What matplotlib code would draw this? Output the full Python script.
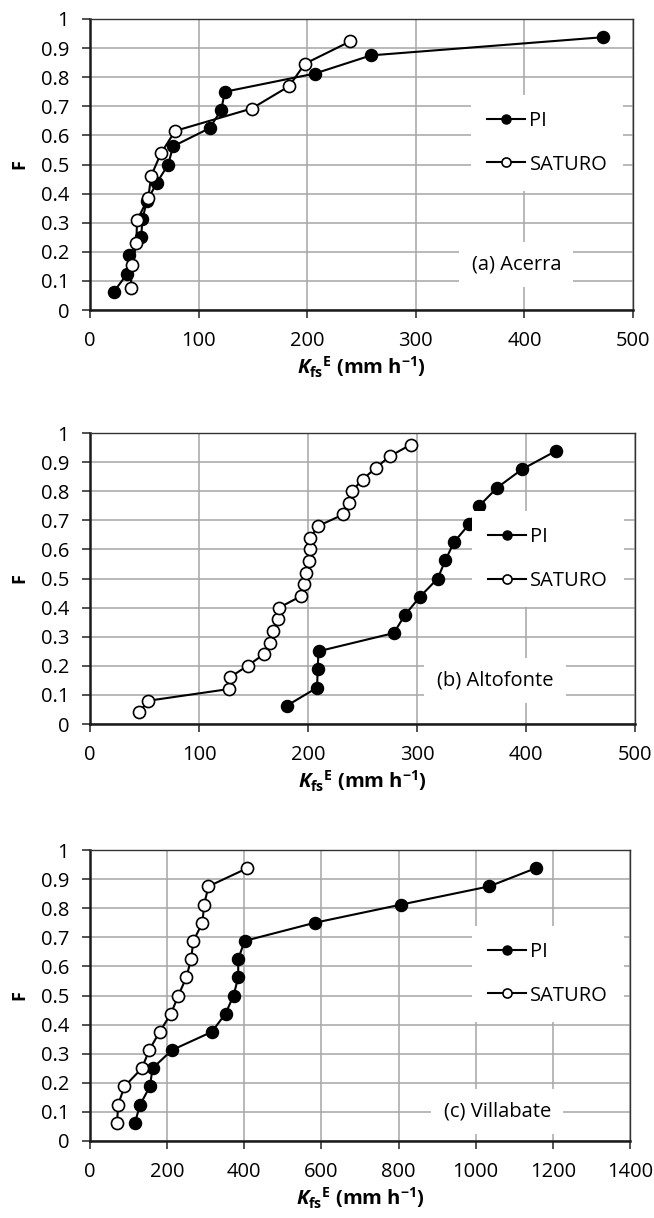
import numpy as np
import matplotlib
matplotlib.use('Agg')
import matplotlib.pyplot as plt

plt.rcParams['font.family'] = ['Open Sans', 'DejaVu Sans']
plt.rcParams['mathtext.fontset'] = 'custom'
plt.rcParams['mathtext.it'] = 'Open Sans:italic:bold'
plt.rcParams['mathtext.rm'] = 'Open Sans:bold'
plt.rcParams['mathtext.bf'] = 'Open Sans:bold'

# (a) Acerra
F_PI_A = [i / 16 for i in range(1, 16)]
K_PI_A = [21.9, 34.4, 35.7, 47.2, 48.2, 52.5, 61.6, 72.0, 76.5, 110.2, 120.8, 124.2, 207.0, 258.8, 472.6]
F_SAT_A = [i / 13 for i in range(1, 13)]
K_SAT_A = [37.4, 39.0, 42.7, 43.3, 53.6, 56.4, 65.3, 78.4, 148.9, 183.4, 197.8, 239.6]

# (b) Altofonte
F_PI_B = [i / 16 for i in range(1, 16)]
K_PI_B = [180.4, 208.4, 208.8, 209.7, 278.7, 289.0, 302.8, 319.0, 326.0, 334.0, 348.0, 357.2,
          373.7, 396.2, 427.1]
F_SAT_B = [i / 25 for i in range(1, 25)]
K_SAT_B = [45.1, 53.6, 127.2, 128.1, 144.6, 159.6, 165.3, 167.8, 172.7, 173.6, 193.8, 196.6,
           198.4, 200.9, 201.8, 202.1, 209.1, 232.3, 237.2, 240.2, 250.0, 262.2, 275.0, 294.3]

# (c) Villabate
F_PI_C = [i / 16 for i in range(1, 16)]
K_PI_C = [116.3, 130.1, 155.3, 162.2, 212.6, 315.8, 351.4, 372.2, 384.3, 384.3, 400.8, 583.0,
          806.9, 1035.0, 1155.6]
F_SAT_C = [i / 16 for i in range(1, 16)]
K_SAT_C = [70.3, 72.9, 89.4, 134.5, 153.6, 180.5, 210.0, 229.0, 249.9, 262.0, 268.1, 291.5,
           295.9, 307.1, 407.8]

PANELS = [
    dict(pi=(K_PI_A, F_PI_A), sat=(K_SAT_A, F_SAT_A), xmax=500, xstep=100, label='(a) Acerra',
         rect=[90, 19, 633, 310], leg=(0.842, 0.574), txt=(0.785, 0.155)),
    dict(pi=(K_PI_B, F_PI_B), sat=(K_SAT_B, F_SAT_B), xmax=500, xstep=100, label='(b) Altofonte',
         rect=[90, 433, 635, 724], leg=(0.840, 0.567), txt=(0.743, 0.151)),
    dict(pi=(K_PI_C, F_PI_C), sat=(K_SAT_C, F_SAT_C), xmax=1400, xstep=200, label='(c) Villabate',
         rect=[90, 850, 630, 1141], leg=(0.848, 0.574), txt=(0.754, 0.103)),
]

W, H = 654, 1218
fig = plt.figure(figsize=(W / 100, H / 100), dpi=100)

for p in PANELS:
    l, t, r, b = p['rect']
    ax = fig.add_axes([l / W, 1 - b / H, (r - l) / W, (b - t) / H])
    ax.plot(*p['pi'], color='black', lw=1.5, marker='o', ms=8.7, mfc='black', mec='black',
            label='PI', zorder=3)
    ax.plot(*p['sat'], color='black', lw=1.5, marker='o', ms=8.7, mfc='white', mec='black',
            mew=1.2, label='SATURO', zorder=3)
    ax.set_xlim(0, p['xmax'])
    ax.set_ylim(0, 1)
    ax.set_xticks(np.arange(0, p['xmax'] + 1, p['xstep']))
    ax.set_yticks(np.arange(0, 1.01, 0.1))
    ax.set_yticklabels(['0'] + ['%.1f' % v for v in np.arange(0.1, 0.95, 0.1)] + ['1'])
    ax.grid(True, color='#a6a6a6', lw=1.1, zorder=0)
    ax.set_axisbelow(True)
    for s in ['left', 'bottom']:
        ax.spines[s].set_linewidth(1.8)
        ax.spines[s].set_color('#1a1a1a')
    for s in ['top', 'right']:
        ax.spines[s].set_linewidth(1.0)
        ax.spines[s].set_color('#333333')
    ax.tick_params(axis='both', labelsize=14.5, length=6, width=1.2, color='#333333')
    ax.tick_params(axis='y', pad=9)
    ax.tick_params(axis='x', pad=9)
    ax.tick_params(top=False, right=False)
    ax.set_ylabel('F', fontsize=13, fontweight='bold', labelpad=9)
    ax.set_xlabel(r'$K_{\mathrm{fs}}{}^{\mathrm{E}}$ (mm h$^{-1}$)', fontsize=14.5,
                  fontweight='bold', labelpad=3)
    leg = ax.legend(loc='center', bbox_to_anchor=p['leg'], fontsize=14.5, frameon=True,
                    fancybox=False, edgecolor='none', facecolor='white', framealpha=1,
                    handlelength=1.9, labelspacing=1.15, handletextpad=0.2, markerscale=0.75,
                    borderpad=0.8)
    ax.text(p['txt'][0], p['txt'][1], p['label'], transform=ax.transAxes, fontsize=14.5,
            ha='center', va='center',
            bbox=dict(facecolor='white', edgecolor='none', pad=9))

fig.savefig('out.png', dpi=100)
